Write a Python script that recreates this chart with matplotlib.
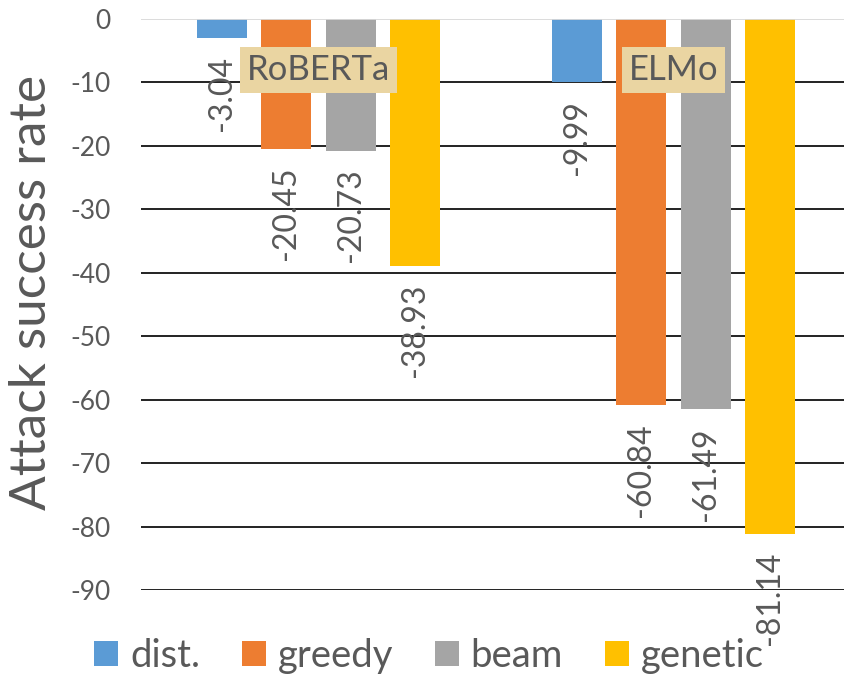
import matplotlib
matplotlib.use("Agg")
import matplotlib.pyplot as plt
import numpy as np

plt.rcParams['font.family'] = ['Lato', 'DejaVu Sans']

models = ["RoBERTa", "ELMo"]
methods = ["dist.", "greedy", "beam", "genetic"]
dist_vals = [-3.04, -9.99]
greedy_vals = [-20.45, -60.84]
beam_vals = [-20.73, -61.49]
genetic_vals = [-38.93, -81.14]
y_ticks = [0, -10, -20, -30, -40, -50, -60, -70, -80, -90]

series = [dist_vals, greedy_vals, beam_vals, genetic_vals]
colors = ["#5B9BD5", "#ED7D31", "#A5A5A5", "#FFC000"]
text_color = "#595959"

W, H = 844, 675
fig = plt.figure(figsize=(W / 100, H / 100), dpi=100)
ax = fig.add_axes([141 / W, (H - 590) / H, 710 / W, 571 / H])

x = np.arange(len(models))
step = 0.1817
width = 0.141
for i, (vals, col, name) in enumerate(zip(series, colors, methods)):
    pos = x + (i - 1.5) * step
    bars = ax.bar(pos, vals, width=width, color=col, label=name, zorder=3)
    for b, v in zip(bars, vals):
        ax.annotate(f"{v:.2f}", xy=(b.get_x() + b.get_width() / 2, v),
                    xytext=(0, -13), textcoords="offset points",
                    rotation=90, ha="center", va="top",
                    fontsize=23, color=text_color, zorder=5)

ax.set_xlim(-0.5, 1.5)
ax.set_ylim(-90, 0)
ax.set_yticks(y_ticks)
ax.set_yticklabels([str(t) for t in y_ticks])
ax.tick_params(axis="y", length=0, pad=22, labelsize=19, labelcolor=text_color)
ax.set_xticks([])
for s in ax.spines.values():
    s.set_visible(False)

for t in y_ticks:
    if t == 0:
        ax.axhline(t, color="#D9D9D9", lw=1.3, zorder=4)
    else:
        ax.axhline(t, color="#111111", lw=1.3, zorder=1)

# model names on a parchment-coloured tag
for xi, name in zip(x, models):
    ax.text(xi, -8.0, name, ha="center", va="center", fontsize=25,
            color=text_color, zorder=6,
            bbox=dict(boxstyle="square,pad=0.2", facecolor="#EAD5A2",
                      edgecolor="none"))

fig.text(32 / W, (H - 292) / H, "Attack success rate", rotation=90,
         ha="center", va="center", fontsize=37, color=text_color)

fig.legend(loc="center", bbox_to_anchor=(429 / W, (H - 656) / H), ncol=4,
           frameon=False, fontsize=27.5, labelcolor=text_color,
           handlelength=0.62, handleheight=0.62, handletextpad=0.31,
           columnspacing=1.1, borderaxespad=0, borderpad=0)

fig.savefig("out.png", dpi=100)
